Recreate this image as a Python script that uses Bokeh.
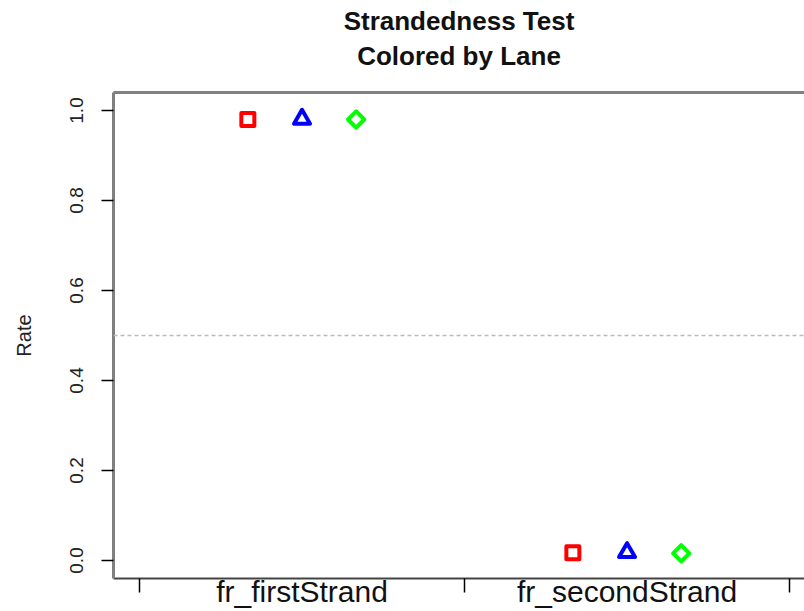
import math
from bokeh.plotting import figure
from bokeh.models import Range1d, FixedTicker, Span, Title, LinearAxis, PrintfTickFormatter
from bokeh.embed import file_html
from bokeh.resources import INLINE

# ---- data ----
categories = ["fr_firstStrand", "fr_secondStrand"]
lanes = ["Lane 1", "Lane 2", "Lane 3"]
lane1_rate = [0.980, 0.017]
lane2_rate = [0.981, 0.018]
lane3_rate = [0.980, 0.016]
y_ticks = [0.0, 0.2, 0.4, 0.6, 0.8, 1.0]
ref_line = 0.5

lane_rates = [lane1_rate, lane2_rate, lane3_rate]
lane_colors = ["#FF0000", "#0000FF", "#00FF00"]
lane_markers = ["square", "triangle", "square"]
lane_angles = [0.0, 0.0, math.pi / 4]
lane_sizes = [13, 16, 11.5]

FONT = "Liberation Sans"

p = figure(width=804, height=611, output_backend="svg", toolbar_location=None,
           x_range=Range1d(0.42, 2.546), y_range=Range1d(-0.04, 1.04),
           min_border_left=113, min_border_top=92, min_border_bottom=33,
           min_border_right=0, x_axis_location=None, y_axis_location=None)
p.outline_line_color = None
p.grid.visible = False
p.background_fill_color = "white"
p.border_fill_color = "white"

# left axis
ya = LinearAxis(ticker=FixedTicker(ticks=y_ticks), axis_label="Rate",
                formatter=PrintfTickFormatter(format="%.1f"))
ya.axis_line_color = "#808080"
ya.axis_line_width = 3
ya.major_tick_in = 0
ya.major_tick_out = 12
ya.major_tick_line_color = "black"
ya.major_tick_line_width = 1.5
ya.minor_tick_line_color = None
ya.major_label_orientation = "vertical"
ya.major_label_text_font = FONT
ya.major_label_text_font_size = "19px"
ya.major_label_text_color = "#222222"
ya.major_label_standoff = 19
ya.axis_label_text_font = FONT
ya.axis_label_text_font_size = "20px"
ya.axis_label_text_font_style = "normal"
ya.axis_label_text_color = "#222222"
ya.axis_label_standoff = 32
p.add_layout(ya, "left")

# bottom axis: category labels at group centres, group boundary ticks as minor ticks
n = len(categories)
centers = [i + 1 for i in range(n)]
bounds = [i + 0.5 for i in range(n + 1)]
xa = LinearAxis(ticker=FixedTicker(ticks=centers, minor_ticks=bounds))
xa.major_label_overrides = {c: categories[i] for i, c in enumerate(centers)}
xa.major_label_text_font = FONT
xa.major_label_text_font_size = "30px"
xa.major_label_text_color = "#111111"
xa.major_label_standoff = -18
xa.axis_line_color = "#444444"
xa.axis_line_width = 2
xa.major_tick_in = 0
xa.major_tick_out = 0
xa.major_tick_line_color = None
xa.minor_tick_in = 0
xa.minor_tick_out = 14
xa.minor_tick_line_color = "black"
xa.minor_tick_line_width = 1.5
p.add_layout(xa, "below")

# top border (invisible tick gives spacing below the titles)
ta = LinearAxis(ticker=FixedTicker(ticks=[1.5]))
ta.major_label_overrides = {1.5: ""}
ta.axis_line_color = "#808080"
ta.axis_line_width = 3
ta.major_tick_in = 0
ta.major_tick_out = 22
ta.major_tick_line_color = "white"
ta.major_tick_line_alpha = 0.0
ta.minor_tick_line_color = None
ta.major_label_text_font_size = "1px"
ta.major_label_standoff = 0
p.add_layout(ta, "above")

# titles (two lines)
t2 = Title(text="Colored by Lane", align="center", text_font=FONT,
           text_font_size="26px", text_font_style="bold", text_color="#111111",
           standoff=0)
t1 = Title(text="Strandedness Test", align="center", text_font=FONT,
           text_font_size="26px", text_font_style="bold", text_color="#111111",
           standoff=5)
p.add_layout(t2, "above")
p.add_layout(t1, "above")

# reference line
p.add_layout(Span(location=ref_line, dimension="width", line_color="#BBBBBB",
                  line_width=1.5, line_dash="4 3"))

# points
for k, rates in enumerate(lane_rates):
    off = (k - 1) / 6.0
    p.scatter([x + off for x in centers], rates, marker=lane_markers[k],
              size=lane_sizes[k], angle=lane_angles[k], fill_color=None,
              line_color=lane_colors[k], line_width=4, line_join="round")

open("out.html", "w").write(file_html(p, INLINE))
